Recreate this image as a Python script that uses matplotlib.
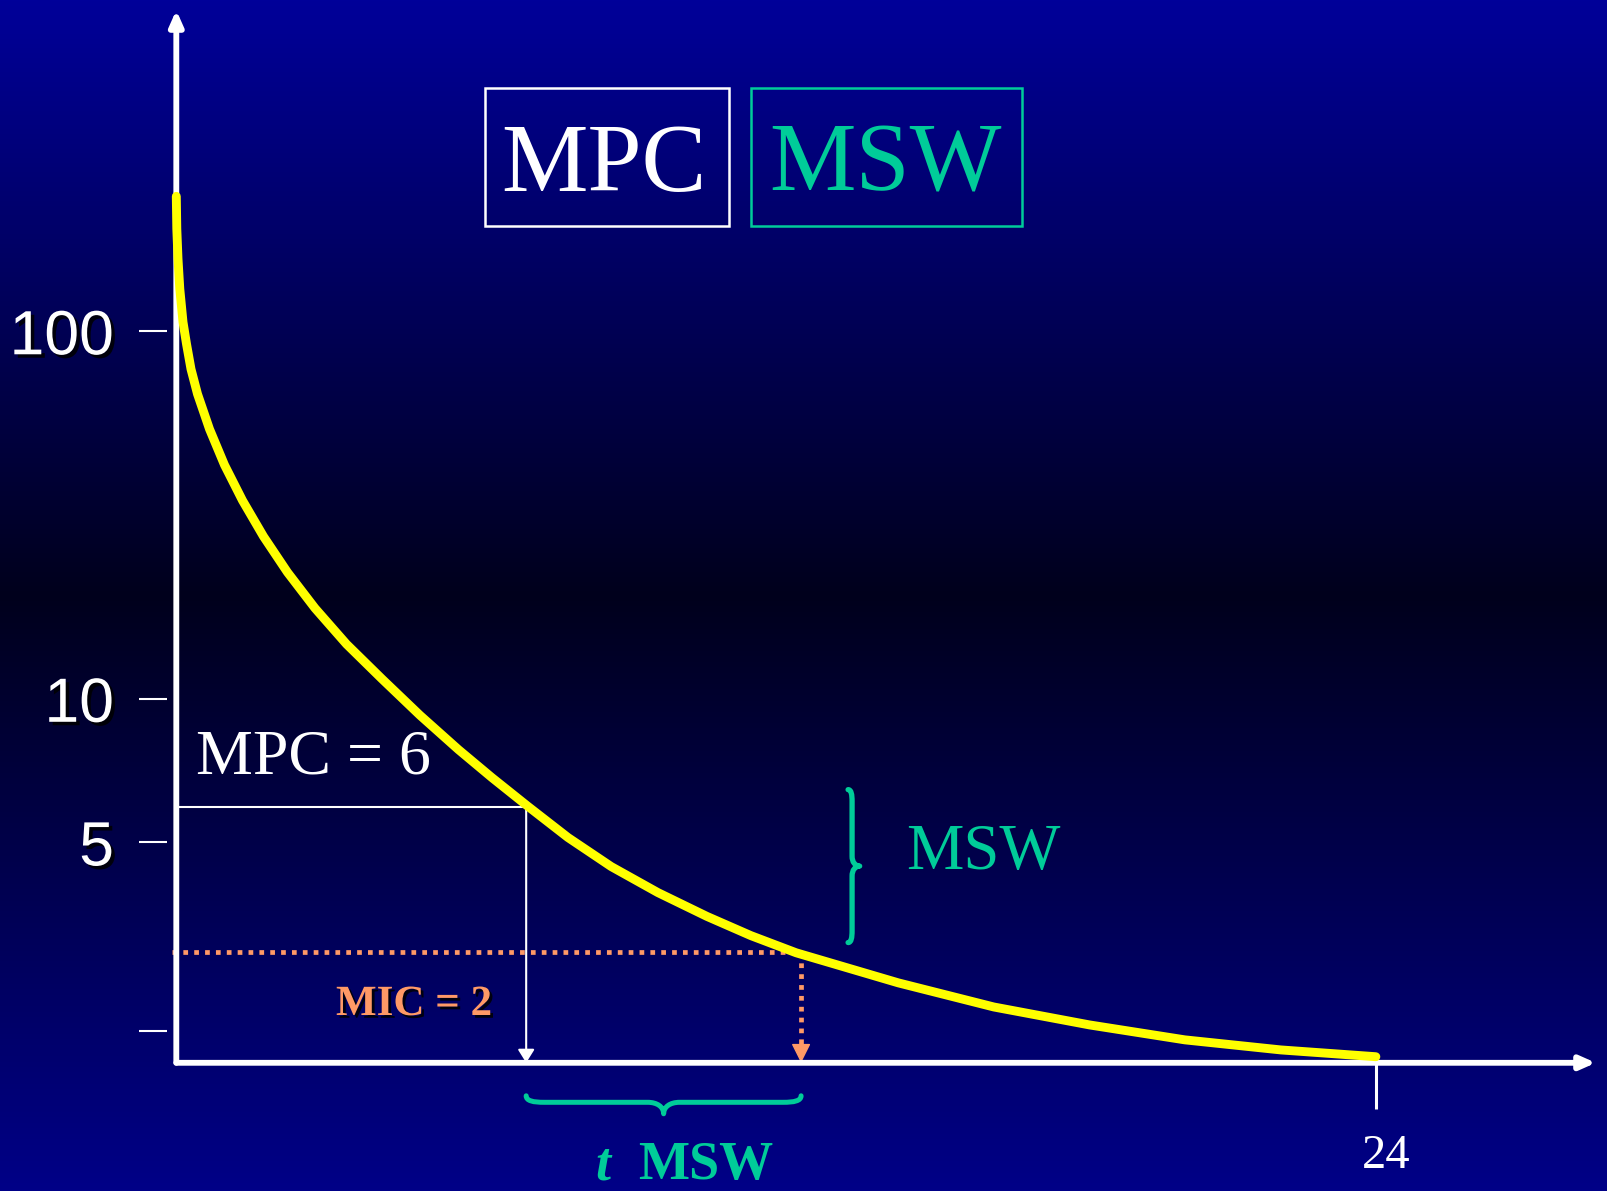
import numpy as np
import matplotlib
matplotlib.use("Agg")
import matplotlib.pyplot as plt
import matplotlib.patheffects as pe
from matplotlib.patches import Rectangle, PathPatch
from matplotlib.path import Path
from matplotlib.transforms import IdentityTransform, ScaledTranslation

# --- data ---
hours = [0, 0.01, 0.034, 0.070, 0.134, 0.204, 0.294, 0.424, 0.664, 0.964, 1.324, 1.744,
         2.224, 2.775, 3.405, 4.115, 4.875, 5.645, 6.315, 7.031, 7.836, 8.702, 9.636,
         10.616, 11.496, 12.402, 14.445, 16.357, 18.272, 20.178, 22.098, 24.0]
conc = [227, 186.4, 155.3, 129.4, 105.8, 92.6, 79.4, 68.2, 55.0, 44.1, 35.4, 28.3,
        22.6, 18.0, 14.3, 11.4, 9.27, 7.90, 6.92, 6.03, 5.13, 4.15, 3.37,
        2.76, 2.33, 1.99, 1.56, 1.26, 1.06, 0.64, 0.32, 0.14]
MPC, MIC = 6, 2
T_MPC, T_MIC = 7.0, 12.5
ytick_vals = [100, 10, 5, 1]
ytick_labels = ["100", "10", "5", ""]
xtick_vals = [24]
xtick_labels = ["24"]

# the y axis on the slide is hand drawn: height (px) given to each concentration
U_ANCH = np.log10(1 + np.array([0, 1, 2, 5, 6, 10, 100, 1000]))
L_ANCH = np.array([0, 32.1, 110.5, 220.1, 255.2, 363.5, 730.5, 1110.1])


def fwd(c):
    return np.interp(np.log10(1 + np.clip(c, 0, None)), U_ANCH, L_ANCH)


def inv(lv):
    return 10 ** np.interp(lv, L_ANCH, U_ANCH) - 1


W, H = 1607, 1191
YELLOW = "#FFFF00"
GREEN = "#00CC99"
ORANGE = "#FF9966"
SERIF = "Liberation Serif"
SANS = "Liberation Sans"

fig = plt.figure(figsize=(W / 100, H / 100), dpi=100)


def fx(px):
    return px / W


def fy(py):
    return 1 - py / H


# background gradient
bg = fig.add_axes([0, 0, 1, 1])
blue = np.interp(np.linspace(0, 1, 600), [0, 0.5, 1], [0.60, 0.11, 0.53])
img = np.zeros((600, 1, 3))
img[:, 0, 2] = blue
bg.imshow(img, aspect="auto", extent=[0, 1, 0, 1])
bg.set_axis_off()

x0, y0, x1, y1 = 176.3, 1062.8, 1595.8, 10.2
ax = fig.add_axes([fx(x0), fy(y0), (x1 - x0) / W, (y0 - y1) / H])
ax.patch.set_visible(False)
ax.set_yscale("function", functions=(fwd, inv))
ax.set_xlim(0, 28.4)
ax.set_ylim(0, 700)

for s in ["top", "right"]:
    ax.spines[s].set_visible(False)
ax.spines["left"].set_position(("outward", 6.8))
ax.spines["left"].set_color("none")
ax.spines["bottom"].set_color("none")

ax.set_yticks(ytick_vals, labels=ytick_labels)
ax.set_xticks(xtick_vals, labels=xtick_labels)
ax.minorticks_off()
ax.tick_params(axis="y", length=20, width=1.5, colors="white", pad=18, labelsize=45)
ax.tick_params(axis="x", length=33, width=2.2, colors="white", pad=18, labelsize=35)
ax.yaxis.get_major_ticks()[3].tick1line.set_color("black")
shadow = [pe.SimplePatchShadow(offset=(2.5, -2.5), shadow_rgbFace="black", alpha=0.85), pe.Normal()]
for lab in ax.get_yticklabels():
    lab.set_family(SANS)
    lab.set_path_effects(shadow)
for lab in ax.get_xticklabels():
    lab.set_family(SERIF)
    lab.set_transform(lab.get_transform() + ScaledTranslation(0.10, 0, fig.dpi_scale_trans))

# axes arrows
arr = dict(arrowstyle="-|>,head_length=0.45,head_width=0.2", color="white", lw=4.2,
           shrinkA=0, shrinkB=0, mutation_scale=20)
ax.annotate("", xy=(0, 1), xytext=(0, 0), xycoords="axes fraction", arrowprops=arr, zorder=3)
ax.annotate("", xy=(1, 0), xytext=(0, 0), xycoords="axes fraction", arrowprops=arr, zorder=3)

# MPC guide
ax.plot([0, T_MPC], [MPC, MPC], color="white", lw=1.5, zorder=2)
ax.annotate("", xy=(T_MPC, 0), xytext=(T_MPC, MPC),
            arrowprops=dict(arrowstyle="-|>,head_length=0.4,head_width=0.25", color="white",
                            lw=1.5, shrinkA=0, shrinkB=0, mutation_scale=20), zorder=2)

# MIC guide (dotted)
dots = dict(color=ORANGE, lw=3.4, linestyle=(0, (1.0, 1.3)), zorder=2, clip_on=False)
ax.plot([-0.08, T_MIC], [MIC, MIC], **dots)
ax.plot([T_MIC, T_MIC], [MIC, 0], **dots)
ax.annotate("", xy=(T_MIC, 0), xytext=(0, 13), textcoords="offset points",
            arrowprops=dict(arrowstyle="-|>,head_length=0.6,head_width=0.3", color=ORANGE,
                            lw=1, shrinkA=0, shrinkB=0, mutation_scale=20), zorder=2)

# concentration curve
ax.plot(hours, conc, color=YELLOW, lw=6.4, solid_capstyle="round", solid_joinstyle="round",
        zorder=6, clip_on=False)


def brace(p0, p1, d1, d2, r, r2, **kw):
    p0, p1 = np.asarray(p0, float), np.asarray(p1, float)
    L = np.hypot(*(p1 - p0))
    e = (p1 - p0) / L
    n = np.array([e[1], -e[0]])
    m = L / 2
    loc = [(0, 0), (0, 0.8 * d1), (0.4 * r, d1), (r, d1),
           (m - r2, d1),
           (m - 0.4 * r2, d1), (m, d1 + 0.4 * d2), (m, d1 + d2),
           (m, d1 + 0.4 * d2), (m + 0.4 * r2, d1), (m + r2, d1),
           (L - r, d1),
           (L - 0.4 * r, d1), (L, 0.8 * d1), (L, 0)]
    verts = [p0 + s * e + t * n for s, t in loc]
    C, LT = Path.CURVE4, Path.LINETO
    codes = [Path.MOVETO, C, C, C, LT, C, C, C, C, C, C, LT, C, C, C]
    patch = PathPatch(Path(verts, codes), transform=IdentityTransform(), fill=False,
                      capstyle="round", joinstyle="round", clip_on=False, **kw)
    ax.add_artist(patch)


# brace under the time axis (MPC time -> MIC time)
pa = ax.transData.transform((T_MPC, 0)) + (0, -33)
pb = ax.transData.transform((T_MIC, 0)) + (0, -33)
brace(pa, pb, 6.5, 11.5, 18, 16, ec=GREEN, lw=3.6)

# brace on concentration window (MIC -> MPC)
xb = ax.transData.transform((T_MIC, MIC))[0] + 47
yb = ax.transData.transform((T_MIC, MIC))[1] + 9.6
yt = ax.transData.transform((T_MPC, MPC))[1] + 17.6
brace((xb, yb), (xb, yt), 4, 7.6, 12, 10, ec=GREEN, lw=3.8)

# texts
tf = fig.transFigure
ax.add_patch(Rectangle((fx(484.5), fy(225.7)), (728.8 - 484.5) / W, (225.7 - 88.3) / H,
                       transform=tf, fill=False, ec="white", lw=1.8, clip_on=False))
ax.add_patch(Rectangle((fx(750.6), fy(225.7)), (1021.8 - 750.6) / W, (225.7 - 88.3) / H,
                       transform=tf, fill=False, ec=GREEN, lw=1.8, clip_on=False))
ax.text(fx(603.6), fy(190.7), "MPC", transform=tf, ha="center", va="baseline",
        fontsize=70, color="white", family=SERIF, zorder=5)
ax.text(fx(885.3), fy(190.7), "MSW", transform=tf, ha="center", va="baseline",
        fontsize=70, color=GREEN, family=SERIF, zorder=5)
ax.text(fx(195.7), fy(773.3), "MPC = 6", transform=tf, ha="left", va="baseline",
        fontsize=46, color="white", family=SERIF, zorder=5)
ax.text(fx(906), fy(869), "MSW", transform=tf, ha="left", va="baseline",
        fontsize=46.5, color=GREEN, family=SERIF, zorder=5)
ax.text(fx(336), fy(1015), "MIC = 2", transform=tf, ha="left", va="baseline",
        fontsize=31, color=ORANGE, family=SERIF, fontweight="bold", zorder=5,
        path_effects=[pe.SimplePatchShadow(offset=(2, -2), shadow_rgbFace="black", alpha=0.85),
                      pe.Normal()])
ax.text(fx(595), fy(1179), "t", transform=tf, ha="left", va="baseline", fontsize=39,
        color=GREEN, family=SERIF, fontweight="bold", fontstyle="italic", zorder=5)
ax.text(fx(638), fy(1179), "MSW", transform=tf, ha="left", va="baseline", fontsize=39,
        color=GREEN, family=SERIF, fontweight="bold", zorder=5)

fig.savefig("out.png", dpi=100)
